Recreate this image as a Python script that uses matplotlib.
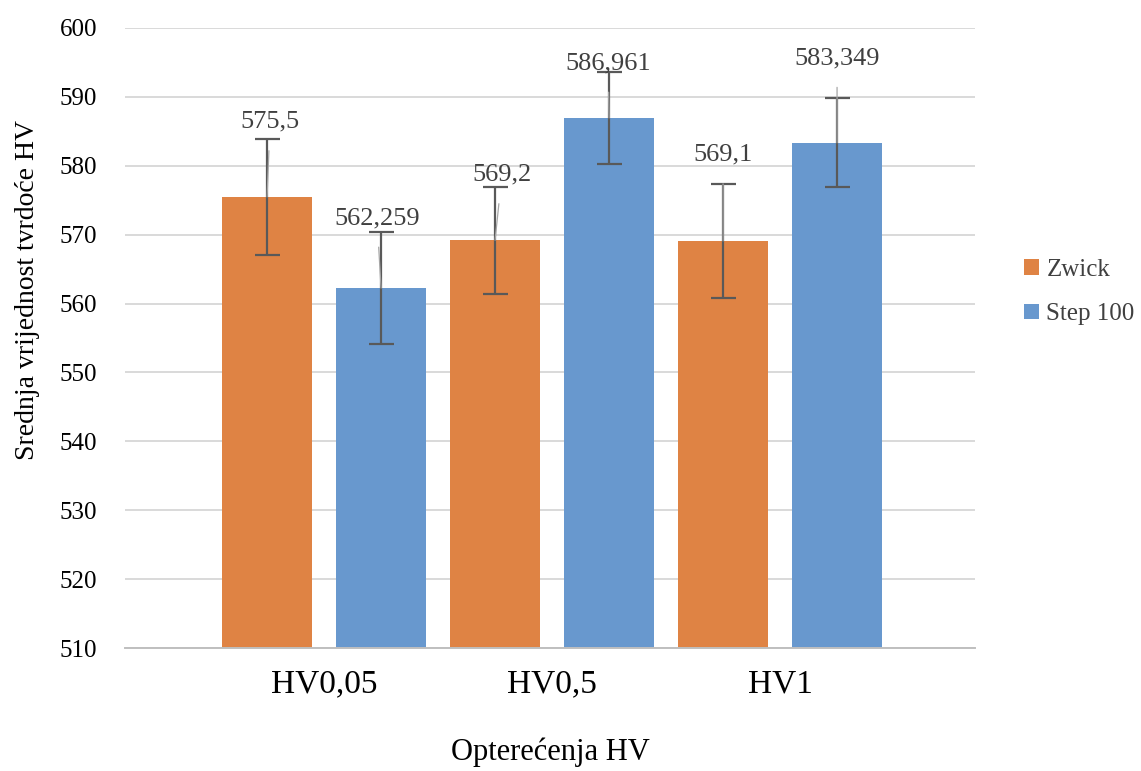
import numpy as np
import matplotlib
matplotlib.use("Agg")
import matplotlib.pyplot as plt

plt.rcParams['font.family'] = ['Liberation Serif', 'DejaVu Serif']

kategorije = ["HV0,05", "HV0,5", "HV1"]
zwick = [575.5, 569.2, 569.1]
step100 = [562.259, 586.961, 583.349]
zwick_err = [8.4, 7.75, 8.25]
step_err = [8.1, 6.7, 6.5]
zwick_oznake = ["575,5", "569,2", "569,1"]
step_oznake = ["562,259", "586,961", "583,349"]

# polozaj oznaka iznad stupaca (u jedinicama HV) i mali pomak lijevo/desno
zwick_lab_y = [586.4, 578.7, 581.6]
step_lab_y = [572.4, 594.9, 595.6]
zwick_lab_dx = [0.013, 0.03, 0.0]
step_lab_dx = [-0.018, -0.004, 0.0]

boja_z = "#DF8344"
boja_s = "#6898CE"

fig = plt.figure(figsize=(11.41, 7.71), dpi=100)
ax = fig.add_axes([0.1096, 0.1595, 0.7449, 0.8042])

x = np.arange(len(kategorije))
w = 0.395
off = 0.25

ax.bar(x - off, zwick, w, color=boja_z, label="Zwick", zorder=2)
ax.bar(x + off, step100, w, color=boja_s, label="Step 100", zorder=2)
ax.errorbar(x - off, zwick, yerr=zwick_err, fmt="none", ecolor="#595959",
            elinewidth=1.6, capsize=9, capthick=1.6, zorder=3)
ax.errorbar(x + off, step100, yerr=step_err, fmt="none", ecolor="#595959",
            elinewidth=1.6, capsize=9, capthick=1.6, zorder=3)

for xs, vals, labs, ly, dx in [(x - off, zwick, zwick_oznake, zwick_lab_y, zwick_lab_dx),
                               (x + off, step100, step_oznake, step_lab_y, step_lab_dx)]:
    for xi, v, t, yy, d in zip(xs, vals, labs, ly, dx):
        ax.annotate(t, xy=(xi, v), xytext=(xi + d, yy), ha="center", va="center",
                    fontsize=19, color="#404040", zorder=4,
                    arrowprops=dict(arrowstyle="-", color="#A6A6A6", lw=0.9,
                                    shrinkA=11, shrinkB=0))

ax.set_ylim(510, 600)
ax.set_xlim(-0.873, 2.855)
ax.set_yticks(np.arange(510, 601, 10))
ax.set_xticks(x)
ax.set_xticklabels(kategorije, fontsize=24)
ax.tick_params(axis="y", labelsize=18, length=0, pad=20)
ax.tick_params(axis="x", length=0, pad=15)
ax.grid(axis="y", color="#D9D9D9", lw=1.4, zorder=0)
ax.set_axisbelow(True)
for s in ["top", "right", "left"]:
    ax.spines[s].set_visible(False)
ax.spines["bottom"].set_color("#BFBFBF")
ax.spines["bottom"].set_linewidth(1.4)

ax.set_xlabel("Opterećenja HV", fontsize=22)
ax.xaxis.set_label_coords(0.5, -0.145)
ax.set_ylabel("Srednja vrijednost tvrdoće HV", fontsize=20)
ax.yaxis.set_label_coords(-0.1, 0.577)

ax.legend(loc="center left", bbox_to_anchor=(1.028, 0.574), frameon=False,
          fontsize=18, handlelength=0.6, handleheight=0.6, handletextpad=0.3,
          labelspacing=0.9, labelcolor="#404040", borderaxespad=0.6)

fig.savefig("out.png", dpi=100)
